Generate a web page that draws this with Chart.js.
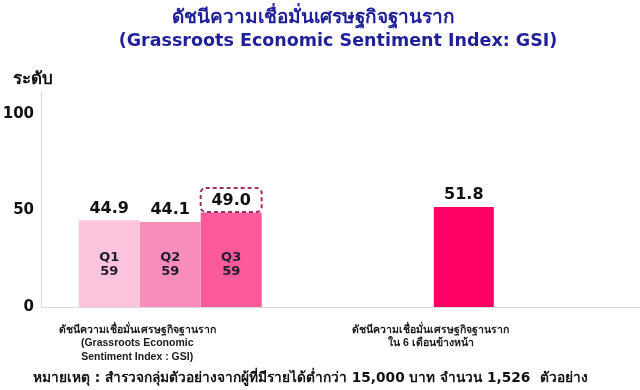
<!DOCTYPE html>
<html>
<head>
<meta charset="utf-8">
<script src="https://cdn.jsdelivr.net/npm/chart.js@4/dist/chart.umd.min.js"></script>
<style>
html,body{margin:0;padding:0;background:#fff;}
#wrap{width:640px;height:390px;position:relative;}
</style>
</head>
<body>
<div id="wrap"><canvas id="c" width="640" height="390"></canvas></div>
<script>
// ---- data ----
const titleLines = ['ดัชนีความเชื่อมั่นเศรษฐกิจฐานราก', '(Grassroots Economic Sentiment Index: GSI)'];
const yAxisTitle = 'ระดับ';
const footnote = 'หมายเหตุ : สำรวจกลุ่มตัวอย่างจากผู้ที่มีรายได้ต่ำกว่า 15,000 บาท จำนวน 1,526  ตัวอย่าง';
const categories = [
  ['ดัชนีความเชื่อมั่นเศรษฐกิจฐานราก', '(Grassroots Economic', 'Sentiment Index : GSI)'],
  ['ดัชนีความเชื่อมั่นเศรษฐกิจฐานราก', 'ใน 6 เดือนข้างหน้า']
];
const quarterNames = ['Q1', 'Q2', 'Q3'];
const quarterYear = '59';
const currentValues = [44.9, 44.1, 49.0];   // category 0, one value per quarter
const outlookValue = 51.8;                  // category 1
const yTicks = [0, 50, 100];

// ---- styles ----
const quarterColors = ['#FCC4DC', '#F98DB9', '#FB5A98'];
const outlookColor = '#FF0066';
const highlightIndex = 2;
const FONT = "'DejaVu Sans', 'Noto Sans', sans-serif";
const LABEL_FONT = "'Liberation Sans', 'DejaVu Sans', sans-serif";

const datasets = quarterNames.map((q, i) => ({
  label: q,
  data: categories.map((c, ci) => ({ x: ci, y: ci === 0 ? currentValues[i] : null })),
  backgroundColor: quarterColors[i],
  borderWidth: 0,
  categoryPercentage: 0.623,
  barPercentage: 1.0
}));
datasets.push({
  label: 'outlook',
  data: categories.map((c, ci) => ({ x: ci, y: ci === 1 ? outlookValue : null })),
  backgroundColor: outlookColor,
  borderWidth: 0,
  categoryPercentage: 0.623,
  barPercentage: 0.328
});

function fitFont(ctx, text, weight, family, targetW, maxSize) {
  ctx.font = weight + ' 20px ' + family;
  const w = ctx.measureText(text).width;
  let s = 20 * targetW / w;
  if (maxSize) s = Math.min(s, maxSize);
  return weight + ' ' + s.toFixed(2) + 'px ' + family;
}

const textPlugin = {
  id: 'texts',
  beforeDraw(chart) {
    const ctx = chart.ctx;
    ctx.save();
    ctx.fillStyle = '#fff';
    ctx.fillRect(0, 0, chart.width, chart.height);
    ctx.restore();
  },
  afterDatasetsDraw(chart) {
    const ctx = chart.ctx;
    ctx.save();
    ctx.textAlign = 'center';
    ctx.textBaseline = 'middle';
    chart.data.datasets.forEach((ds, di) => {
      const meta = chart.getDatasetMeta(di);
      meta.data.forEach((el, i) => {
        const v = ds.data[i].y;
        if (v === null || v === undefined) return;
        const ly = el.y - 12;
        ctx.fillStyle = '#111';
        ctx.font = 'bold 16px ' + FONT;
        ctx.fillText(v.toFixed(1), el.x, ly);
        if (di === highlightIndex) {
          const w = 61, h = 24, r = 5;
          ctx.save();
          ctx.strokeStyle = '#9E2C68';
          ctx.lineWidth = 2;
          ctx.setLineDash([4, 3]);
          ctx.beginPath();
          ctx.roundRect(el.x - w / 2, ly - h / 2 - 0.5, w, h, r);
          ctx.stroke();
          ctx.restore();
        }
        if (di < quarterNames.length) {
          ctx.fillStyle = '#1d1d2b';
          ctx.font = 'bold 13px ' + FONT;
          ctx.fillText(quarterNames[di], el.x, el.base - 49);
          ctx.fillText(quarterYear, el.x, el.base - 35);
        }
      });
    });
    ctx.restore();
  },
  afterDraw(chart) {
    const ctx = chart.ctx;
    ctx.save();
    ctx.textAlign = 'center';
    ctx.textBaseline = 'middle';
    ctx.fillStyle = '#1f1f99';
    ctx.font = fitFont(ctx, titleLines[0], 'bold', FONT, 333, 19);
    ctx.fillText(titleLines[0], 313, 18);
    ctx.font = fitFont(ctx, titleLines[1], 'bold', FONT, 439, 22);
    ctx.fillText(titleLines[1], 338, 41);
    ctx.fillStyle = '#111';
    ctx.textAlign = 'left';
    ctx.font = fitFont(ctx, yAxisTitle, 'bold', FONT, 52, 17);
    ctx.fillText(yAxisTitle, 13, 80);
    ctx.font = fitFont(ctx, footnote, 'bold', FONT, 552, 15);
    ctx.fillText(footnote, 33, 378);
    ctx.restore();
  }
};

new Chart(document.getElementById('c'), {
  type: 'bar',
  data: { datasets },
  options: {
    responsive: false,
    animation: false,
    events: [],
    layout: { padding: { top: 92, right: 0, bottom: 0, left: 0 } },
    plugins: { legend: { display: false }, tooltip: { enabled: false }, title: { display: false } },
    datasets: { bar: { grouped: true, skipNull: true } },
    scales: {
      x: {
        type: 'linear',
        min: -0.44,
        max: 1.6,
        offset: false,
        grid: { display: false, drawTicks: false },
        border: { display: true, color: '#D9D9D9', width: 1 },
        afterBuildTicks: s => { s.ticks = categories.map((c, i) => ({ value: i })); },
        afterFit: s => { s.height = 83; },
        ticks: {
          autoSkip: false,
          maxRotation: 0,
          padding: 16,
          labelOffset: -33,
          color: '#1a1a1a',
          font: { family: LABEL_FONT, size: 10.5, weight: 'bold', lineHeight: 1.3 },
          callback: v => categories[v]
        }
      },
      y: {
        min: 0,
        max: 111.4,
        grid: { display: false, drawTicks: false },
        border: { display: true, color: '#D9D9D9', width: 1 },
        afterBuildTicks: s => { s.ticks = yTicks.map(v => ({ value: v })); },
        afterFit: s => { s.width = 41; },
        ticks: {
          padding: 7,
          color: '#111',
          font: { family: FONT, size: 15, weight: 'bold' },
          callback: v => String(v)
        }
      }
    }
  },
  plugins: [textPlugin]
});
</script>
</body>
</html>
